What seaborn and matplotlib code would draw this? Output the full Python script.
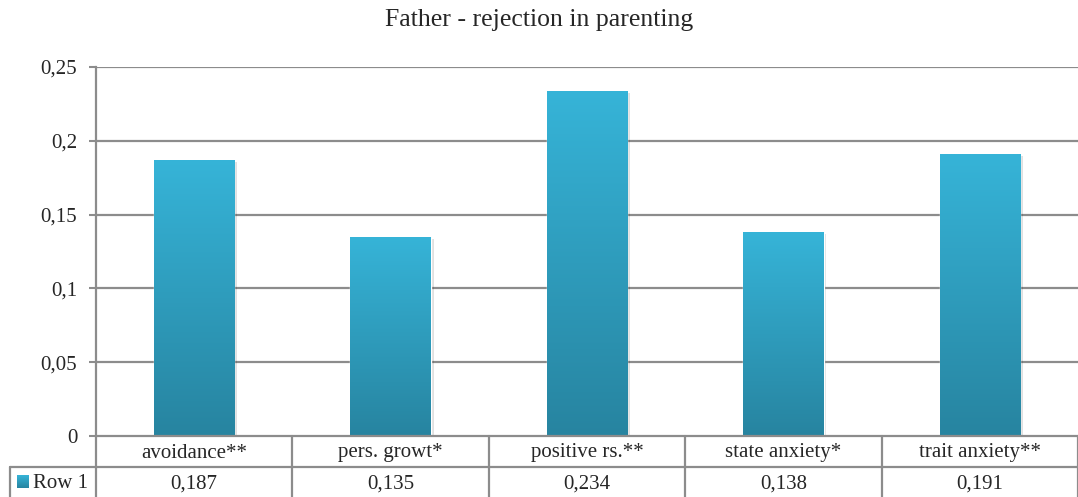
import numpy as np
import pandas as pd
import matplotlib
matplotlib.use("Agg")
import matplotlib.pyplot as plt
import matplotlib.patheffects as pe
from matplotlib.colors import LinearSegmentedColormap
from matplotlib.lines import Line2D
import seaborn as sns

title = "Father - rejection in parenting"
categories = ["avoidance**", "pers. growt*", "positive rs.**", "state anxiety*", "trait anxiety**"]
values = [0.187, 0.135, 0.234, 0.138, 0.191]
series_name = "Row 1"
yticks = [0, 0.05, 0.1, 0.15, 0.2, 0.25]

sns.set_style("white")
plt.rcParams["font.family"] = ["Liberation Serif", "DejaVu Serif"]

W, H = 1078, 497
fig = plt.figure(figsize=(W / 100, H / 100), dpi=100)
ax = fig.add_axes([96 / W, 1 - 436 / H, (W - 96) / W, (436 - 67) / H])

df = pd.DataFrame({"category": categories, "value": values})
sns.barplot(data=df, x="category", y="value", color="#2a87a0", width=0.41,
            ax=ax, zorder=3)

# vertical gradient fill like the original office chart
grad = LinearSegmentedColormap.from_list("g", ["#2784a0", "#36b4d8"])
gimg = np.linspace(0, 1, 256).reshape(-1, 1)
for p in ax.patches:
    x0, y0 = p.get_x(), p.get_y()
    w, h = p.get_width(), p.get_height()
    p.set_path_effects([pe.SimplePatchShadow(offset=(2, -1.5), alpha=0.12,
                                             shadow_rgbFace="#000000"), pe.Normal()])
    im = ax.imshow(gimg, cmap=grad, aspect="auto", origin="lower",
                   extent=[x0, x0 + w, y0, y0 + h], zorder=4)
    im.set_clip_path(p)

ax.set_xlim(-0.5, len(categories) - 0.5)
ax.set_ylim(0, 0.25)
ax.set_yticks(yticks)
ax.set_yticklabels([("%g" % t).replace(".", ",") for t in yticks], fontsize=15)
ax.tick_params(axis="y", length=5, width=1.5, color="#8c8c8c", pad=8.5, left=True)
ax.set_xticks([])
ax.set_xlabel("")
ax.set_ylabel("")
for t in yticks[1:]:
    ax.axhline(t, color="#8c8c8c", lw=1.6, zorder=1)
for s in ["top", "right", "bottom"]:
    ax.spines[s].set_visible(False)
ax.spines["left"].set_color("#8c8c8c")
ax.spines["left"].set_linewidth(1.6)

# data table under the axis
lc = "#8c8c8c"
ah = 436 - 67
row1 = -(467 - 436) / ah
row2 = -(497 - 436) / ah
tr = ax.get_xaxis_transform()
ax.add_line(Line2D([-0.5, 4.5], [0, 0], transform=tr, color=lc, lw=1.6, clip_on=False, zorder=5))
ax.add_line(Line2D([-0.5 - 86 / 196.4, 4.5], [row1, row1], transform=tr, color=lc, lw=1.6, clip_on=False))
ax.add_line(Line2D([-0.5 - 86 / 196.4] * 2, [row1, row2], transform=tr, color=lc, lw=1.6, clip_on=False))
for b in np.arange(-0.5, len(categories), 1.0):
    ax.add_line(Line2D([b, b], [0, row2], transform=tr, color=lc, lw=1.6, clip_on=False))
for i, (c, v) in enumerate(zip(categories, values)):
    ax.text(i, row1 / 2 - 1.5 / ah, c, transform=tr, ha="center", va="center", fontsize=15)
    ax.text(i, (row1 + row2) / 2 - 2 / ah, ("%.3f" % v).replace(".", ","), transform=tr,
            ha="center", va="center", fontsize=15)

# legend key in the table
kx = -0.5 - 79 / 196.4
kw = 12 / 196.4
ky = (row1 + row2) / 2
kh = 12 / ah
ax.imshow(gimg, cmap=grad, aspect="auto", origin="lower",
          extent=[kx, kx + kw, ky - kh / 2, ky + kh / 2], transform=tr, clip_on=False, zorder=5)
ax.text(kx + kw + 4 / 196.4, ky - 2 / ah, series_name, transform=tr, ha="left", va="center", fontsize=15)
ax.set_xlim(-0.5, len(categories) - 0.5)
ax.set_ylim(0, 0.25)

fig.text(0.5, 1 - 20 / H, title, ha="center", va="center", fontsize=18.5)
fig.savefig("out.png", dpi=100)
